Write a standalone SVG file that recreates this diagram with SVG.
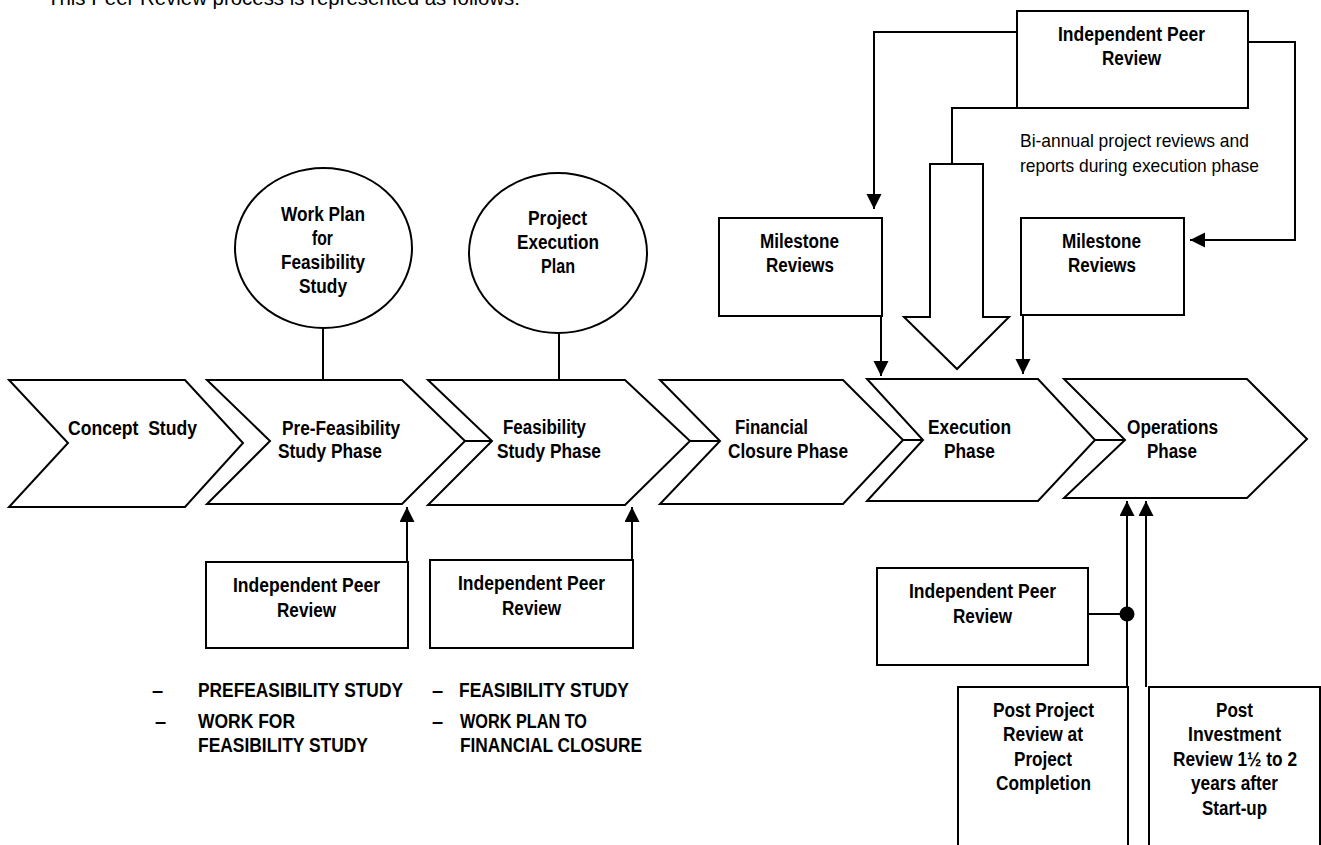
<svg xmlns="http://www.w3.org/2000/svg" width="1321" height="845" viewBox="0 0 1321 845">
<defs>
<style>
.s{fill:#fff;stroke:#000;stroke-width:2}
.c{fill:none;stroke:#000;stroke-width:2}
.t{font-family:"Liberation Sans Narrow","Liberation Sans",Arial,sans-serif;font-weight:bold;font-size:20px;fill:#000}
.r{font-family:"Liberation Sans Narrow","Liberation Sans",Arial,sans-serif;font-size:19px;fill:#000}
.h{font-family:"Liberation Sans",Arial,sans-serif;font-size:20px;fill:#000}
</style>
<marker id="ah" markerUnits="userSpaceOnUse" markerWidth="16" markerHeight="16" refX="15" refY="7.5" orient="auto" viewBox="0 0 16 16">
<path d="M0,0 L15,7.5 L0,15 z" fill="#000"/>
</marker>
</defs>
<rect width="1321" height="845" fill="#fff"/>
<text class="h" x="47" y="5" textLength="473" lengthAdjust="spacingAndGlyphs">This Peer Review process is represented as follows:</text>

<g id="connectors">
<line class="c" x1="465" y1="441" x2="492" y2="441"/>
<line class="c" x1="690" y1="441" x2="720" y2="441"/>
<line class="c" x1="903" y1="440" x2="923" y2="440"/>
<line class="c" x1="1095" y1="440" x2="1125" y2="440"/>
<line class="c" x1="323" y1="328" x2="323" y2="380"/>
<line class="c" x1="559" y1="333" x2="559" y2="380"/>
<polyline class="c" points="1022,32 874,32 874,209" marker-end="url(#ah)"/>
<polyline class="c" points="1017,108 952,108 952,196" marker-end="url(#ah)"/>
<polyline class="c" points="1248,42 1295,42 1295,240 1190,240" marker-end="url(#ah)"/>
<line class="c" x1="881" y1="316" x2="881" y2="376" marker-end="url(#ah)"/>
<line class="c" x1="1023" y1="315" x2="1023" y2="374" marker-end="url(#ah)"/>
<line class="c" x1="407" y1="562" x2="407" y2="507" marker-end="url(#ah)"/>
<line class="c" x1="632" y1="560" x2="632" y2="507" marker-end="url(#ah)"/>
<line class="c" x1="1127" y1="687" x2="1127" y2="501" marker-end="url(#ah)"/>
<line class="c" x1="1146" y1="687" x2="1146" y2="501" marker-end="url(#ah)"/>
<line class="c" x1="1088" y1="614" x2="1127" y2="614"/>
<circle cx="1127" cy="614" r="7.5" fill="#000"/>
</g>

<g id="concept">
<polygon class="s" points="9,380 185,380 243,443 185,507 9,507 68,443"/>
<text class="t" x="68" y="435" textLength="129" lengthAdjust="spacingAndGlyphs" xml:space="preserve">Concept  Study</text>
</g>
<g id="prefeas">
<polygon class="s" points="207,380 402,380 465,441 402,504 207,504 270,441"/>
<text class="t" x="282" y="435" textLength="118" lengthAdjust="spacingAndGlyphs">Pre-Feasibility</text>
<text class="t" x="278" y="458" textLength="104" lengthAdjust="spacingAndGlyphs">Study Phase</text>
</g>
<g id="feas">
<polygon class="s" points="428,380 625,380 690,441 625,505 428,505 492,441"/>
<text class="t" x="503" y="434" textLength="83" lengthAdjust="spacingAndGlyphs">Feasibility</text>
<text class="t" x="497" y="458" textLength="104" lengthAdjust="spacingAndGlyphs">Study Phase</text>
</g>
<g id="fin">
<polygon class="s" points="660,380 843,380 903,440 843,504 660,504 720,441"/>
<text class="t" x="735" y="434" textLength="73" lengthAdjust="spacingAndGlyphs">Financial</text>
<text class="t" x="728" y="458" textLength="120" lengthAdjust="spacingAndGlyphs">Closure Phase</text>
</g>
<g id="exec">
<polygon class="s" points="867,379 1038,379 1095,440 1038,501 867,501 923,440"/>
<text class="t" x="928" y="434" textLength="83" lengthAdjust="spacingAndGlyphs">Execution</text>
<text class="t" x="944" y="458" textLength="51" lengthAdjust="spacingAndGlyphs">Phase</text>
</g>
<g id="ops">
<polygon class="s" points="1064,379 1247,379 1307,439 1247,498 1064,498 1125,440"/>
<text class="t" x="1127" y="434" textLength="91" lengthAdjust="spacingAndGlyphs">Operations</text>
<text class="t" x="1147" y="458" textLength="50" lengthAdjust="spacingAndGlyphs">Phase</text>
</g>

<g id="workplan">
<ellipse class="s" cx="323.5" cy="248" rx="88.5" ry="80"/>
<text class="t" x="281" y="221" textLength="84" lengthAdjust="spacingAndGlyphs">Work Plan</text>
<text class="t" x="312" y="245" textLength="21" lengthAdjust="spacingAndGlyphs">for</text>
<text class="t" x="281" y="269" textLength="84" lengthAdjust="spacingAndGlyphs">Feasibility</text>
<text class="t" x="299" y="293" textLength="48" lengthAdjust="spacingAndGlyphs">Study</text>
</g>
<g id="execplan">
<ellipse class="s" cx="558" cy="253" rx="89" ry="80"/>
<text class="t" x="528" y="225" textLength="59" lengthAdjust="spacingAndGlyphs">Project</text>
<text class="t" x="517" y="249" textLength="82" lengthAdjust="spacingAndGlyphs">Execution</text>
<text class="t" x="541" y="273" textLength="34" lengthAdjust="spacingAndGlyphs">Plan</text>
</g>

<g id="ipr-top">
<rect class="s" x="1017" y="11" width="231" height="97"/>
<text class="t" x="1058" y="41" textLength="147" lengthAdjust="spacingAndGlyphs">Independent Peer</text>
<text class="t" x="1102" y="65" textLength="59" lengthAdjust="spacingAndGlyphs">Review</text>
</g>
<g id="biannual">
<polygon class="s" points="930,164 983,164 983,317 1009,317 957,369 904,317 930,317"/>
<text class="r" x="1020" y="147" textLength="229" lengthAdjust="spacingAndGlyphs">Bi-annual project reviews and</text>
<text class="r" x="1020" y="172" textLength="239" lengthAdjust="spacingAndGlyphs">reports during execution phase</text>
</g>
<g id="milestone1">
<rect class="s" x="719" y="218" width="163" height="98"/>
<text class="t" x="760" y="248" textLength="79" lengthAdjust="spacingAndGlyphs">Milestone</text>
<text class="t" x="766" y="272" textLength="68" lengthAdjust="spacingAndGlyphs">Reviews</text>
</g>
<g id="milestone2">
<rect class="s" x="1021" y="218" width="163" height="97"/>
<text class="t" x="1062" y="248" textLength="79" lengthAdjust="spacingAndGlyphs">Milestone</text>
<text class="t" x="1068" y="272" textLength="68" lengthAdjust="spacingAndGlyphs">Reviews</text>
</g>

<g id="ipr-a">
<rect class="s" x="206" y="562" width="202" height="86"/>
<text class="t" x="233" y="592" textLength="147" lengthAdjust="spacingAndGlyphs">Independent Peer</text>
<text class="t" x="277" y="617" textLength="59" lengthAdjust="spacingAndGlyphs">Review</text>
</g>
<g id="ipr-b">
<rect class="s" x="430" y="560" width="203" height="88"/>
<text class="t" x="458" y="590" textLength="147" lengthAdjust="spacingAndGlyphs">Independent Peer</text>
<text class="t" x="502" y="615" textLength="59" lengthAdjust="spacingAndGlyphs">Review</text>
</g>
<g id="list-a">
<text class="t" x="152" y="697">–</text>
<text class="t" x="198" y="697" textLength="205" lengthAdjust="spacingAndGlyphs">PREFEASIBILITY STUDY</text>
<text class="t" x="155" y="728">–</text>
<text class="t" x="198" y="728" textLength="97" lengthAdjust="spacingAndGlyphs">WORK FOR</text>
<text class="t" x="198" y="752" textLength="170" lengthAdjust="spacingAndGlyphs">FEASIBILITY STUDY</text>
</g>
<g id="list-b">
<text class="t" x="432" y="697">–</text>
<text class="t" x="459" y="697" textLength="170" lengthAdjust="spacingAndGlyphs">FEASIBILITY STUDY</text>
<text class="t" x="432" y="728">–</text>
<text class="t" x="460" y="728" textLength="127" lengthAdjust="spacingAndGlyphs">WORK PLAN TO</text>
<text class="t" x="460" y="752" textLength="182" lengthAdjust="spacingAndGlyphs">FINANCIAL CLOSURE</text>
</g>

<g id="ipr-c">
<rect class="s" x="877" y="568" width="211" height="97"/>
<text class="t" x="909" y="598" textLength="147" lengthAdjust="spacingAndGlyphs">Independent Peer</text>
<text class="t" x="953" y="623" textLength="59" lengthAdjust="spacingAndGlyphs">Review</text>
</g>
<g id="post-project">
<rect class="s" x="958" y="687" width="170" height="170"/>
<text class="t" x="993" y="717" textLength="101" lengthAdjust="spacingAndGlyphs">Post Project</text>
<text class="t" x="1003" y="741" textLength="80" lengthAdjust="spacingAndGlyphs">Review at</text>
<text class="t" x="1014" y="766" textLength="58" lengthAdjust="spacingAndGlyphs">Project</text>
<text class="t" x="996" y="790" textLength="95" lengthAdjust="spacingAndGlyphs">Completion</text>
</g>
<g id="post-investment">
<rect class="s" x="1149" y="687" width="171" height="170"/>
<text class="t" x="1216" y="717" textLength="37" lengthAdjust="spacingAndGlyphs">Post</text>
<text class="t" x="1188" y="741" textLength="93" lengthAdjust="spacingAndGlyphs">Investment</text>
<text class="t" x="1173" y="766" textLength="124" lengthAdjust="spacingAndGlyphs">Review 1½ to 2</text>
<text class="t" x="1191" y="790" textLength="87" lengthAdjust="spacingAndGlyphs">years after</text>
<text class="t" x="1202" y="815" textLength="65" lengthAdjust="spacingAndGlyphs">Start-up</text>
</g>
</svg>
